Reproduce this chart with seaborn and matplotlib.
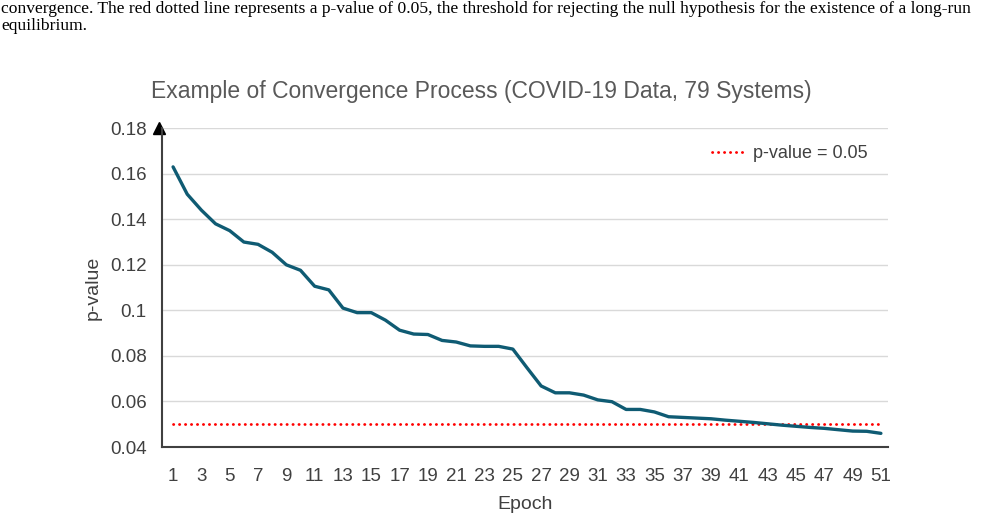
import matplotlib
matplotlib.use("Agg")
import matplotlib.pyplot as plt
import seaborn as sns
import numpy as np
import pandas as pd

# Données
epochs = list(range(1, 52))
p_values = [0.163, 0.151, 0.144, 0.138, 0.135, 0.130, 0.129, 0.1255, 0.120, 0.1176,
            0.1106, 0.109, 0.101, 0.099, 0.099, 0.0957, 0.0913, 0.0896, 0.0894, 0.0868,
            0.0861, 0.0844, 0.0842, 0.0842, 0.083, 0.0748, 0.0668, 0.0638, 0.0638, 0.0628,
            0.0607, 0.0599, 0.0565, 0.0565, 0.0554, 0.0533, 0.053, 0.0527, 0.0524, 0.0518,
            0.0513, 0.0508, 0.0502, 0.0496, 0.0491, 0.0486, 0.0482, 0.0476, 0.047, 0.0469,
            0.046]
threshold = 0.05
y_ticks = [0.04, 0.06, 0.08, 0.1, 0.12, 0.14, 0.16, 0.18]
y_tick_labels = ["0.04", "0.06", "0.08", "0.1", "0.12", "0.14", "0.16", "0.18"]
x_ticks = list(range(1, 52, 2))

caption = ("convergence. The red dotted line represents a p-value of 0.05, the threshold for rejecting the null hypothesis for the existence of a long-run\n"
           "equilibrium.")

df = pd.DataFrame({"Epoch": epochs, "p": p_values, "seuil": [threshold] * len(epochs)})

sns.set_theme(style="white")
plt.rcParams["font.family"] = ["Liberation Sans", "DejaVu Sans"]

fig = plt.figure(figsize=(9.85, 5.21), dpi=100)
ax = fig.add_axes([0.1645, 0.142, 0.737, 0.612])

# Grille horizontale
for yt in y_ticks[1:]:
    ax.axhline(yt, color="#d9d9d9", lw=1.0, zorder=0)

sns.lineplot(data=df, x="Epoch", y="seuil", ax=ax, color="#ff0000", lw=2.0,
             linestyle=(0, (0.1, 2.05)), dash_capstyle="round",
             label="p-value = 0.05", zorder=2)
sns.lineplot(data=df, x="Epoch", y="p", ax=ax, color="#0f5b73", lw=2.4, zorder=3)

ax.set_xlim(0.22, 51.5)
ax.set_ylim(0.04, 0.18)
ax.set_yticks(y_ticks)
ax.set_yticklabels(y_tick_labels)
ax.set_xticks(x_ticks)
ax.tick_params(axis="both", length=0, labelsize=13.5, colors="#404040")
ax.tick_params(axis="x", pad=15)
ax.tick_params(axis="y", pad=11)

for s in ["top", "right"]:
    ax.spines[s].set_visible(False)
for s in ["left", "bottom"]:
    ax.spines[s].set_color("#404040")
    ax.spines[s].set_linewidth(1.5)

# Flèches au bout des axes
ax.plot(1, 0, ">", color="black", ms=9, transform=ax.get_yaxis_transform(), clip_on=False)
ax.plot(0, 1, "^", color="black", ms=9, transform=ax.get_xaxis_transform(), clip_on=False)

ax.set_xlabel("Epoch", fontsize=14, color="#404040", labelpad=8)
ax.set_ylabel("p-value", fontsize=14, color="#404040", labelpad=6)
ax.set_title("Example of Convergence Process (COVID-19 Data, 79 Systems)",
             fontsize=16.5, color="#595959", pad=22, x=0.44)

leg = ax.legend(loc="upper right", frameon=False, fontsize=13, handlelength=1.8,
                handletextpad=0.5, bbox_to_anchor=(0.995, 0.998))
for t in leg.get_texts():
    t.set_color("#404040")

fig.text(0.001, 0.998, caption, ha="left", va="top", fontsize=12.6,
         family=["Liberation Serif", "DejaVu Serif"], color="black", linespacing=1.1)

fig.savefig("out.png", dpi=100)
